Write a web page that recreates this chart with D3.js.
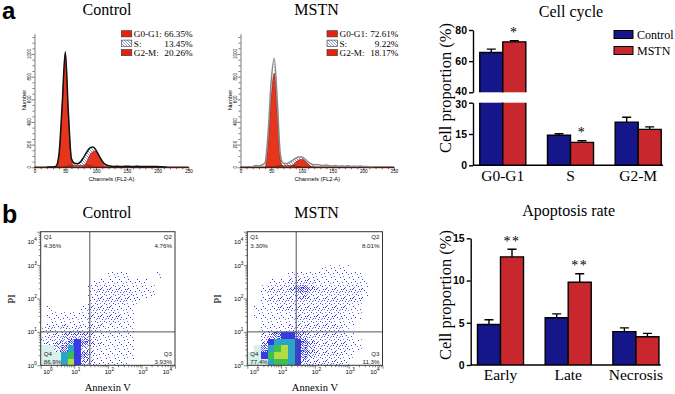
<!DOCTYPE html>
<html>
<head>
<meta charset="utf-8">
<script src="https://cdn.jsdelivr.net/npm/d3@7"></script>
<style>
  body { margin: 0; background: #fff; }
  svg { display: block; }
</style>
</head>
<body>
<svg id="fig" width="675" height="394"></svg>
<script>
// ---------- data ----------
// cell-cycle histograms, counts per FL2-A channel (step 5, channel 0..250)
const channels = d3.range(0, 251, 5);
const ctrlTotal = [0,0,0,0,0,2,3,10,130,560, 1020,480,75,35,32,50,90,135,172,180,
                   150,100,55,25,14,10,8,9,7,8, 9,8,7,9,8,7,8,7,6,7, 6,5,3,0,0,0,0,0,0,0, 0];
const ctrlG1    = [0,0,0,0,0,0,0,0,110,540, 1000,460,60,0,0,0,0,0,0,0,
                   0,0,0,0,0,0,0,0,0,0, 0,0,0,0,0,0,0,0,0,0, 0,0,0,0,0,0,0,0,0,0, 0];
const ctrlG2    = [0,0,0,0,0,0,0,0,0,0, 0,0,0,0,0,0,10,50,108,138,
                   144,94,41,5,0,0,0,0,0,0, 0,0,0,0,0,0,0,0,0,0, 0,0,0,0,0,0,0,0,0,0, 0];
const ctrlSph   = [0,0,0,0,0,0,0,0,0,0, 0,12,18,18,16,16,18,20,15,8,
                   0,0,0,0,0,0,0,0,0,0, 0,0,0,0,0,0,0,0,0,0, 0,0,0,0,0,0,0,0,0,0, 0];
const mstnTotal = [0,0,0,0,5,15,12,20,40,310, 760,960,580,110,35,32,45,62,80,92,
                   90,72,48,30,22,25,18,15,20,14, 12,15,10,12,9,14,8,10,8,12, 7,6,4,0,0,0,0,0,0,0, 0];
const mstnG1    = [0,0,0,0,0,0,0,0,0,220, 620,830,470,65,0,0,0,0,0,0,
                   0,0,0,0,0,0,0,0,0,0, 0,0,0,0,0,0,0,0,0,0, 0,0,0,0,0,0,0,0,0,0, 0];
const mstnG2    = [0,0,0,0,0,0,0,0,0,0, 0,0,0,0,0,0,0,20,45,65,
                   70,55,30,8,0,0,0,0,0,0, 0,0,0,0,0,0,0,0,0,0, 0,0,0,0,0,0,0,0,0,0, 0];
const mstnSph   = [0,0,0,0,0,0,0,0,0,0, 0,0,10,14,14,14,15,15,12,6,
                   0,0,0,0,0,0,0,0,0,0, 0,0,0,0,0,0,0,0,0,0, 0,0,0,0,0,0,0,0,0,0, 0];
const phaseLabels = ['G0-G1:', 'S:', 'G2-M:'];
const ctrlPhasePct = ['66.35%', '13.45%', '20.26%'];
const mstnPhasePct = ['72.61%', '9.22%', '18.17%'];

// Annexin V / PI density, 0.2-decade cells, row 0 = top (10^3.8..10^4)
// 0 empty, 1-4 sparse..dense dots, 5 solid blue, 6 cyan, 7 green, 8 yellow-green, w pale wash
const ctrlDensity = [
  "00000000000000000000","00000000000000000000","00000000000000000000",
  "00000000000000000000","00000000000000000000","00000000000000000000",
  "00000000001110000100","00000000111111110000","00000001222221111000",
  "00000001222222111000","00000001222221100000","01000012222111000000",
  "01111112222211000000","01111111222211000000","12121212211111000000",
  "12233332111111000000","22334543211111000000","ww346532111111000000",
  "www67542111111000000","www68532111110000000"];
const mstnDensity = [
  "00000000000000000000","00000000000000000000","00000000000000000000",
  "00000000000000000000","00000000000000000000","00000000000111100000",
  "00000011111111111000","00011122221111111100","00122234432222222100",
  "00122223322222222100","00122222222222221000","01112222222222211000",
  "01111112222222111000","00111112222221110000","00111122222222100000",
  "00234554322222110000","00356665432222211000","0w467865432222211000",
  "ww578865432222110000","www67765322222100000"];
const quadGateX = [29, 28];
const quadGateY = 10;
const ctrlQuadPct = ['4.36%', '4.76%', '3.93%', '86.9%'];   // Q1, Q2, Q3, Q4
const mstnQuadPct = ['3.30%', '8.01%', '11.3%', '77.4%'];

// bar charts
const groups = ['Control', 'MSTN'];
const phases = ['G0-G1', 'S', 'G2-M'];
const ccControl = [65.6, 14.4, 20.7];
const ccControlErr = [2.1, 0.7, 2.3];
const ccMstn = [72.4, 11.0, 17.2];
const ccMstnErr = [0.7, 0.8, 1.2];
const ccSig = ['*', '*', ''];
const apoCats = ['Early', 'Late', 'Necrosis'];
const apoControl = [4.8, 5.6, 3.95];
const apoControlErr = [0.55, 0.45, 0.45];
const apoMstn = [12.8, 9.8, 3.35];
const apoMstnErr = [0.9, 1.0, 0.4];
const apoSig = ['**', '**', ''];

// ---------- setup ----------
const SERIF = 'Liberation Serif';
const SANS = 'Liberation Sans';
const BLUE = '#14168a', RED = '#c8282d', PEAK = '#e5361d';
const svg = d3.select('#fig');
const defs = svg.append('defs');

function txt(g, x, y, s, size, o = {}) {
  return g.append('text').attr('x', x).attr('y', y).text(s)
    .attr('font-size', size).attr('font-family', o.sans ? SANS : SERIF)
    .attr('font-weight', o.bold ? 'bold' : null)
    .attr('text-anchor', o.anchor || 'start')
    .attr('fill', o.fill || '#000')
    .attr('transform', o.rot ? `rotate(-90,${x},${y})` : null);
}

// hatch for S phase
const hatch = defs.append('pattern').attr('id', 'hatch')
  .attr('patternUnits', 'userSpaceOnUse').attr('width', 3).attr('height', 3);
hatch.append('rect').attr('width', 3).attr('height', 3).attr('fill', '#fff');
hatch.append('path').attr('d', 'M0,0L3,3M-1,2L1,4M2,-1L4,1')
  .attr('stroke', '#5b63a8').attr('stroke-width', 0.7);

// dot textures for density levels (9x9 tiles, dots scattered by hand)
const dotSpots = [[4,2],[1,6],[7,7],[2,0],[6,4],[0,3],[8,1],[3,8],[5,6],[1,1],
                  [7,3],[3,4],[6,0],[0,7],[4,5],[8,5],[2,3],[5,1],[6,8],[1,4],
                  [8,8],[3,1],[7,5],[0,0],[5,3],[2,7],[4,8],[8,3],[6,2],[1,8],
                  [3,6],[7,0],[0,5],[5,8],[2,5],[4,0],[8,6],[6,6],[1,2],[3,3]];
const dotCounts = { dots1: 6, dots2: 12, dots3: 22, dots4: 40 };
const dotColors = ['#2f2ff0', '#7676ff', '#4545e6'];
Object.entries(dotCounts).forEach(([id, count]) => {
  const p = defs.append('pattern').attr('id', id)
    .attr('patternUnits', 'userSpaceOnUse').attr('width', 9).attr('height', 9);
  dotSpots.slice(0, count).forEach((d, k) => p.append('rect')
    .attr('x', d[0]).attr('y', d[1])
    .attr('width', 1).attr('height', 1).attr('fill', dotColors[k % 3]));
});
const levelFill = {
  '1': 'url(#dots1)', '2': 'url(#dots2)', '3': 'url(#dots3)', '4': 'url(#dots4)',
  '5': '#3a3ae4', '6': '#2aa6c4', '7': '#3dbf50', '8': '#b4dc40', 'w': '#d9f1ec'
};

// ---------- panel letters / titles ----------
txt(svg, 2, 18.5, 'a', 24, { sans: true, bold: true });
txt(svg, 2, 223, 'b', 25, { sans: true, bold: true });
txt(svg, 107, 15, 'Control', 16, { anchor: 'middle' });
txt(svg, 316.5, 15, 'MSTN', 16, { anchor: 'middle' });
txt(svg, 107, 218, 'Control', 16, { anchor: 'middle' });
txt(svg, 316.5, 218, 'MSTN', 16, { anchor: 'middle' });

// ---------- histograms ----------
function histogram(o) {
  const g = svg.append('g');
  const x = d3.scaleLinear().domain([0, 250]).range([o.x0, o.x1]);
  const y = d3.scaleLinear().domain([0, 1180]).range([167.3, 33.6]);
  const pts = a => channels.map((c, i) => [c, a[i]]);
  const area = d3.area().x(d => x(d[0])).y0(y(0)).y1(d => y(d[1])).curve(d3.curveMonotoneX);
  const line = d3.line().x(d => x(d[0])).y(d => y(d[1])).curve(d3.curveMonotoneX);

  g.append('path').datum(pts(o.total).filter(d => d[0] >= 55 && d[0] <= 120))
    .attr('d', area).attr('fill', 'url(#hatch)');
  [o.g1, o.g2].forEach(a => g.append('path').datum(pts(a)).attr('d', area)
    .attr('fill', PEAK).attr('stroke', '#7a1c10').attr('stroke-width', 0.6));
  g.append('path').datum(pts(o.sph)).attr('d', area)
    .attr('fill', '#b23220').attr('fill-opacity', 0.55)
    .attr('stroke', '#5a1408').attr('stroke-width', 0.6);
  g.append('path').datum(pts(o.total).filter(d => d[0] >= 20 && d[0] <= 215))
    .attr('d', line).attr('fill', 'none').attr('stroke', o.lineColor)
    .attr('stroke-width', 1.5).attr('stroke-linejoin', 'round');

  // axes
  const xa = g.append('g').attr('transform', `translate(0,${y(0)})`)
    .call(d3.axisBottom(x).tickValues(d3.range(0, 251, 10)).tickSizeOuter(0)
      .tickFormat(d => d % 50 === 0 ? d : ''));
  xa.selectAll('.tick line').attr('y2', d => d % 50 === 0 ? 3 : 2);
  xa.selectAll('text').attr('font-size', 4.6).attr('font-family', SANS).attr('dy', '0.5em').attr('y', 3);
  xa.selectAll('path, line').attr('stroke', '#222').attr('stroke-width', 0.6);

  const ya = g.append('g').attr('transform', `translate(${x(0)},0)`)
    .call(d3.axisLeft(y).tickValues(d3.range(0, 1151, 50)).tickSizeOuter(0).tickFormat(''));
  ya.selectAll('.tick line').attr('x2', d => d % 200 === 0 ? -3 : -2);
  ya.selectAll('path, line').attr('stroke', '#222').attr('stroke-width', 0.6);
  d3.range(0, 1001, 200).forEach(v =>
    txt(g, x(0) - 3.5, y(v), v, 4.6, { sans: true, anchor: 'middle', rot: true }));

  txt(g, (o.x0 + o.x1) / 2, 180.5, 'Channels (FL2-A)', 5.8, { sans: true, anchor: 'middle' });
  txt(g, o.x0 - 9, 100, 'Number', 5.8, { sans: true, anchor: 'middle', rot: true });

  // legend
  phaseLabels.forEach((lab, i) => {
    const yy = 30.7 + i * 9.4;
    g.append('rect').attr('x', o.lx).attr('y', yy).attr('width', 10.5).attr('height', 6.2)
      .attr('fill', i === 1 ? 'url(#hatch)' : '#e8200f').attr('stroke', '#333').attr('stroke-width', 0.6);
    txt(g, o.lx + 12.5, yy + 6.4, lab, 9.2);
    txt(g, o.lxEnd, yy + 6.4, o.pct[i], 9.2, { anchor: 'end' });
  });
}
histogram({ x0: 34.5, x1: 188.5, total: ctrlTotal, g1: ctrlG1, g2: ctrlG2, sph: ctrlSph,
  lineColor: '#111', lx: 121.3, lxEnd: 192.7, pct: ctrlPhasePct });
histogram({ x0: 240.5, x1: 394, total: mstnTotal, g1: mstnG1, g2: mstnG2, sph: mstnSph,
  lineColor: '#8a8a8a', lx: 327, lxEnd: 398.5, pct: mstnPhasePct });

// ---------- flow cytometry density plots ----------
function densityPlot(o) {
  const g = svg.append('g');
  const x = d3.scaleLog().domain([1, 1e4]).range([o.x0, o.x1]);
  const y = d3.scaleLog().domain([1, 1e4]).range([o.y0, o.y1]);
  const n = o.grid.length;
  o.grid.forEach((row, r) => {
    [...row].forEach((lv, c) => {
      if (lv === '0') return;
      const xa = x(10 ** (c * 0.2)), xb = x(10 ** ((c + 1) * 0.2));
      const ya = y(10 ** ((n - r) * 0.2)), yb = y(10 ** ((n - r - 1) * 0.2));
      g.append('rect').attr('x', xa).attr('y', ya).attr('width', xb - xa).attr('height', yb - ya)
        .attr('fill', levelFill[lv]).attr('shape-rendering', 'crispEdges');
    });
  });
  // gates
  g.append('line').attr('x1', x(o.gx)).attr('x2', x(o.gx)).attr('y1', o.y1).attr('y2', o.y0)
    .attr('stroke', '#555').attr('stroke-width', 1);
  g.append('line').attr('x1', o.x0).attr('x2', o.x1).attr('y1', y(quadGateY)).attr('y2', y(quadGateY))
    .attr('stroke', '#555').attr('stroke-width', 1);
  g.append('rect').attr('x', o.x0).attr('y', o.y1).attr('width', o.x1 - o.x0).attr('height', o.y0 - o.y1)
    .attr('fill', 'none').attr('stroke', '#333').attr('stroke-width', 1);

  const isDec = d => Math.abs(Math.log10(d) - Math.round(Math.log10(d))) < 1e-9;
  const xa = g.append('g').attr('transform', `translate(0,${o.y0})`)
    .call(d3.axisBottom(x).tickValues(x.ticks()).tickFormat('').tickSizeOuter(0));
  xa.selectAll('.tick line').attr('y2', d => isDec(d) ? 3.5 : 2);
  const ya = g.append('g').attr('transform', `translate(${o.x0},0)`)
    .call(d3.axisLeft(y).tickValues(y.ticks()).tickFormat('').tickSizeOuter(0));
  ya.selectAll('.tick line').attr('x2', d => isDec(d) ? -3.5 : -2);
  g.selectAll('.domain').remove();
  g.selectAll('.tick line').attr('stroke', '#333').attr('stroke-width', 0.6);

  d3.range(0, 5).forEach(e => {
    const v = 10 ** e;
    let xx = x(v) + 1.5, anchor = 'middle';
    if (e === 0) { xx = o.x0 + 2.5; anchor = 'start'; }
    if (e === 4) { xx = o.x1 - 3; anchor = 'end'; }
    const t = txt(g, xx, o.y0 + 9, '10', 6, { sans: true, anchor });
    t.append('tspan').attr('dy', -3).attr('font-size', 4.6).text(e);
    const yy = e === 4 ? y(v) + 12.5 : y(v) + 2.5;
    const t2 = txt(g, o.x0 - 4, yy, '10', 6, { sans: true, anchor: 'end' });
    t2.append('tspan').attr('dy', -3).attr('font-size', 4.6).text(e);
  });

  const L = o.x0 + 3, R = o.x1 - 3;
  txt(g, L, o.y1 + 7, 'Q1', 6.2, { sans: true, fill: '#222' });
  txt(g, L, o.y1 + 15.8, o.pct[0], 6.2, { sans: true, fill: '#222' });
  txt(g, R, o.y1 + 7, 'Q2', 6.2, { sans: true, fill: '#222', anchor: 'end' });
  txt(g, R, o.y1 + 15.8, o.pct[1], 6.2, { sans: true, fill: '#222', anchor: 'end' });
  txt(g, R, o.y0 - 9.5, 'Q3', 6.2, { sans: true, fill: '#222', anchor: 'end' });
  txt(g, R, o.y0 - 1, o.pct[2], 6.2, { sans: true, fill: '#222', anchor: 'end' });
  txt(g, L, o.y0 - 9.5, 'Q4', 6.2, { sans: true, fill: '#222' });
  txt(g, L, o.y0 - 1, o.pct[3], 6.2, { sans: true, fill: '#222' });

  txt(g, (o.x0 + o.x1) / 2, 390.5, 'Annexin V', 10.5, { anchor: 'middle' });
  txt(g, o.x0 - 26, 299, 'PI', 10.5, { anchor: 'middle', rot: true });
}
densityPlot({ x0: 40.7, x1: 175, y0: 365.3, y1: 231.7, grid: ctrlDensity, gx: quadGateX[0], pct: ctrlQuadPct });
densityPlot({ x0: 247.3, x1: 382.5, y0: 365.3, y1: 231.7, grid: mstnDensity, gx: quadGateX[1], pct: mstnQuadPct });

// ---------- bar charts ----------
function barChart(o) {
  const g = svg.append('g');
  const x = d3.scaleBand().domain(o.cats).range([o.left, o.left + 195]).paddingInner(0.32).paddingOuter(0.1);
  const sub = d3.scaleBand().domain(groups).range([0, x.bandwidth()]);
  const segs = o.segs.map(s => ({ ...s, y: d3.scaleLinear().domain(s.domain).range(s.range) }));
  const series = [
    { key: 'Control', vals: o.ctrl, errs: o.ctrlErr, color: BLUE },
    { key: 'MSTN', vals: o.mstn, errs: o.mstnErr, color: RED }
  ];

  series.forEach(se => {
    o.cats.forEach((cat, i) => {
      const v = se.vals[i], xl = x(cat) + sub(se.key), w = sub.bandwidth();
      segs.forEach(s => {
        if (v <= s.domain[0]) return;
        const top = Math.min(v, s.domain[1]);
        const yb = s.y(s.domain[0]), yt = s.y(top);
        g.append('rect').attr('x', xl).attr('y', yt).attr('width', w).attr('height', yb - yt)
          .attr('fill', se.color);
        let d = `M${xl},${yb}V${yt}`;
        d += top === v ? `H${xl + w}` : `M${xl + w},${yt}`;
        d += `V${yb}`;
        g.append('path').attr('d', d).attr('fill', 'none').attr('stroke', '#000').attr('stroke-width', 1.4);
        if (top === v) {
          const ye = s.y(v + se.errs[i]), cx = xl + w / 2;
          g.append('path').attr('d', `M${cx},${yt}V${ye}M${cx - 4.5},${ye}H${cx + 4.5}`)
            .attr('stroke', '#000').attr('stroke-width', 1.4).attr('fill', 'none');
          if (se.key === 'MSTN' && o.sig[i])
            txt(g, cx, ye - 3.5, o.sig[i], 14, { anchor: 'middle' }).attr('letter-spacing', 1.5);
        }
      });
    });
  });

  segs.forEach(s => {
    const ax = g.append('g').attr('transform', `translate(${o.left},0)`)
      .call(d3.axisLeft(s.y).tickValues(s.ticks).tickSize(4).tickSizeOuter(0).tickPadding(2));
    ax.selectAll('path, line').attr('stroke', '#000').attr('stroke-width', 1.4);
    ax.selectAll('text').attr('font-family', SANS).attr('font-weight', 'bold').attr('font-size', 10.5)
      .attr('fill', '#000')
      .attr('transform', d => s.nudge ? `translate(0,${s.nudge(d)})` : null);
  });
  const y0 = segs[0].y(0);
  g.append('line').attr('x1', o.left).attr('x2', o.left + 190).attr('y1', y0).attr('y2', y0)
    .attr('stroke', '#000').attr('stroke-width', 1.4);
  o.cats.forEach(cat => txt(g, x(cat) + x.bandwidth() / 2, o.labelY, cat, 15.5, { anchor: 'middle' }));
  txt(g, o.left + 98, o.titleY, o.title, 16, { anchor: 'middle' });
  txt(g, 450.5, o.ylabelY, 'Cell proportion (%)', 16.5, { anchor: 'middle', rot: true });
}
barChart({
  left: 473, cats: phases, ctrl: ccControl, ctrlErr: ccControlErr, mstn: ccMstn, mstnErr: ccMstnErr, sig: ccSig,
  segs: [{ domain: [0, 30], range: [165.3, 102.7], ticks: [0, 15, 30], nudge: d => d === 30 ? 1 : 0 },
         { domain: [40, 80], range: [92.3, 30], ticks: [40, 60, 80], nudge: d => d === 40 ? -1 : 0 }],
  labelY: 181, title: 'Cell cycle', titleY: 17, ylabelY: 88
});
barChart({
  left: 470.7, cats: apoCats, ctrl: apoControl, ctrlErr: apoControlErr, mstn: apoMstn, mstnErr: apoMstnErr, sig: apoSig,
  segs: [{ domain: [0, 15], range: [365, 238.3], ticks: [0, 5, 10, 15] }],
  labelY: 380, title: 'Apoptosis rate', titleY: 216, ylabelY: 295
});

// legend for the bar charts
groups.forEach((k, i) => {
  svg.append('rect').attr('x', 614).attr('y', 30.5 + i * 16).attr('width', 19).attr('height', 8)
    .attr('fill', i ? RED : BLUE).attr('stroke', '#000').attr('stroke-width', 1);
  txt(svg, 637, 38.5 + i * 16, k, 12);
});
</script>
</body>
</html>
